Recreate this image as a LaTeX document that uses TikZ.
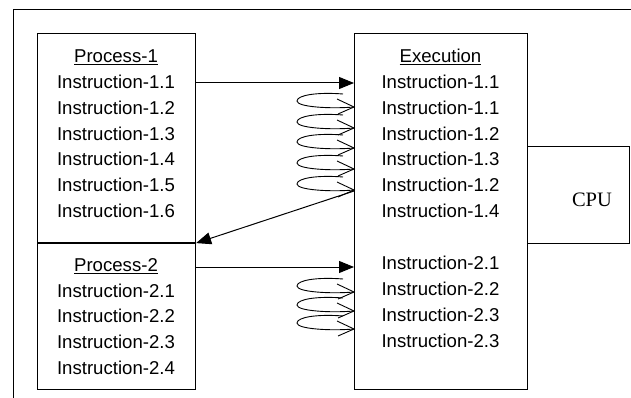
\documentclass[tikz,border=0pt]{standalone}
\usepackage{fontspec}
\setmainfont{Liberation Sans}
\newfontfamily\cpufont{Liberation Serif}
\usetikzlibrary{arrows.meta}
\begin{document}
\begin{tikzpicture}[x=1pt,y=-1pt,
  box/.style={draw, line width=1.1pt, inner sep=0pt, anchor=north west},
  txt/.style={font=\fontsize{18.6}{20}\selectfont, inner sep=0pt, anchor=base},
  arr/.style={line width=1pt, -{Triangle[length=15pt,width=12pt]}},
  coil/.style={line width=0.9pt}]
\useasboundingbox (0,0) rectangle (631,398);
\draw[line width=0.9pt] (13,398) -- (13,9) -- (631,9);
% boxes
\node[box, minimum width=158pt, minimum height=209pt] (p1) at (37,33) {};
\node[box, minimum width=158pt, minimum height=147pt] (p2) at (37,242) {};
\draw[line width=2pt] (p1.south west) -- (p1.south east);
\node[box, minimum width=173pt, minimum height=356pt] (ex) at (354,33) {};
\node[box, minimum width=102pt, minimum height=97pt] (cpu) at (527,146) {};
\node[font=\cpufont\fontsize{20.5}{22}\selectfont, inner sep=0pt] (cpul) at (592,200) {CPU};
% left texts
\node[txt] (hp1) at (116,62.5) {\underline{Process-1}};
\node[txt] (a1) at (116,88.5) {Instruction-1.1};
\node[txt] (a2) at (116,114.3) {Instruction-1.2};
\node[txt] (a3) at (116,140.1) {Instruction-1.3};
\node[txt] (a4) at (116,165.9) {Instruction-1.4};
\node[txt] (a5) at (116,191.7) {Instruction-1.5};
\node[txt] (a6) at (116,217.5) {Instruction-1.6};
\node[txt] (hp2) at (116,271.5) {\underline{Process-2}};
\node[txt] (b1) at (116,297) {Instruction-2.1};
\node[txt] (b2) at (116,322.7) {Instruction-2.2};
\node[txt] (b3) at (116,348.4) {Instruction-2.3};
\node[txt] (b4) at (116,374.1) {Instruction-2.4};
% execution texts
\node[txt] (he) at (440.5,62.5) {\underline{Execution}};
\node[txt] (e1) at (440.5,88.5) {Instruction-1.1};
\node[txt] (e2) at (440.5,114.3) {Instruction-1.1};
\node[txt] (e3) at (440.5,140.1) {Instruction-1.2};
\node[txt] (e4) at (440.5,165.9) {Instruction-1.3};
\node[txt] (e5) at (440.5,191.7) {Instruction-1.2};
\node[txt] (e6) at (440.5,217.5) {Instruction-1.4};
\node[txt] (f1) at (440.5,269.5) {Instruction-2.1};
\node[txt] (f2) at (440.5,295.5) {Instruction-2.2};
\node[txt] (f3) at (440.5,321.5) {Instruction-2.3};
\node[txt] (f4) at (440.5,347.5) {Instruction-2.3};
% arrows
\draw[arr] (p1.east |- 0,83) -- (ex.west |- 0,83);
\draw[arr] (ex.west |- 0,191) -- (p1.south east);
\draw[arr] (p2.east |- 0,267) -- (ex.west |- 0,267);
% coils
\foreach \c in {107,128,148,169,190,292,311,329} {
  \draw[coil] (343,\c-13) .. controls (318,\c-15) and (297,\c-12) .. (297,\c-6)
     .. controls (297,\c) and (330,\c+2) .. (354,\c);
  \draw[coil] (337,\c-8) -- (354,\c) -- (338,\c+7);
}
\end{tikzpicture}
\end{document}
